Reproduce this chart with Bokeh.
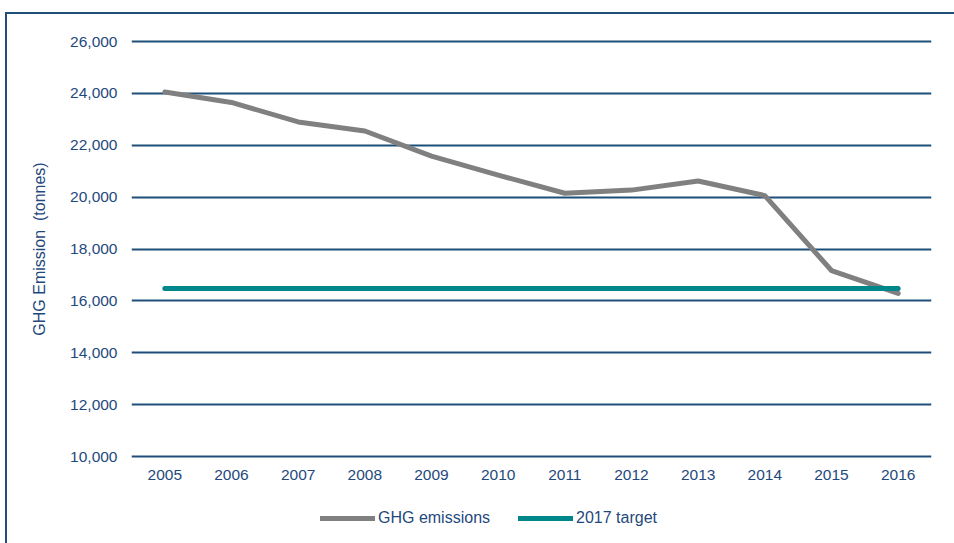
from bokeh.plotting import figure
from bokeh.models import FactorRange, Range1d, FixedTicker, NumeralTickFormatter, Legend, LegendItem, Div
from bokeh.layouts import column
from bokeh.embed import file_html
from bokeh.resources import INLINE

years = ["2005", "2006", "2007", "2008", "2009", "2010", "2011", "2012", "2013", "2014", "2015", "2016"]
ghg_emissions = [24050, 23650, 22900, 22550, 21580, 20850, 20150, 20270, 20620, 20060, 17170, 16290]
target_2017 = [16480] * len(years)
y_ticks = [10000, 12000, 14000, 16000, 18000, 20000, 22000, 24000, 26000]

NAVY = "#1F497D"
GRID = "#1F4E79"
GREY = "#808080"
TEAL = "#00878C"
FONT = "Liberation Sans"
FS = "15.5px"

x_range = FactorRange(factors=years, range_padding=0)
pad = 2 / 415 * 16000
p = figure(width=946, height=490, x_range=x_range,
           y_range=Range1d(10000 - pad, 26000 + pad), output_backend="svg", toolbar_location=None,
           min_border_left=131, min_border_right=15, min_border_top=39, min_border_bottom=32)

p.outline_line_color = None
p.xgrid.grid_line_color = None
p.ygrid.grid_line_color = GRID
p.ygrid.grid_line_width = 2
p.ygrid.ticker = FixedTicker(ticks=y_ticks)

p.yaxis.ticker = FixedTicker(ticks=y_ticks)
p.yaxis.formatter = NumeralTickFormatter(format="0,0")
p.yaxis.axis_label = "GHG Emission\u00a0 (tonnes)"
for ax in (p.xaxis[0], p.yaxis[0]):
    ax.axis_line_color = None
    ax.major_tick_line_color = None
    ax.minor_tick_line_color = None
    ax.major_tick_out = 0
    ax.minor_tick_out = 0
    ax.major_label_text_font = FONT
    ax.major_label_text_font_size = FS
    ax.major_label_text_color = NAVY
    ax.axis_label_text_font = FONT
    ax.axis_label_text_font_size = "16px"
    ax.axis_label_text_font_style = "normal"
    ax.axis_label_text_color = NAVY
p.yaxis.major_label_standoff = 14
p.yaxis.axis_label_standoff = 19
p.xaxis.major_label_standoff = 11

p.line(years, ghg_emissions, line_color=GREY, line_width=5, line_join="round", line_cap="round")
p.line(years, target_2017, line_color=TEAL, line_width=5, line_cap="round")

# legend strip below the chart (its own small figure; its lines lie outside its y range)
lg = figure(width=946, height=45, x_range=x_range, y_range=Range1d(0, 1),
            output_backend="svg", toolbar_location=None,
            x_axis_location=None, y_axis_location=None, min_border=0)
lg.outline_line_color = None
lg.grid.grid_line_color = None
l_ghg = lg.line(years, ghg_emissions, line_color=GREY, line_width=5, line_cap="round")
l_tgt = lg.line(years, target_2017, line_color=TEAL, line_width=5, line_cap="round")

legend = Legend(items=[LegendItem(label="GHG emissions", renderers=[l_ghg]),
                       LegendItem(label="2017 target", renderers=[l_tgt])],
                orientation="horizontal", location=(189, 7))
legend.glyph_width = 55
legend.glyph_height = 20
legend.label_height = 20
legend.label_standoff = 3
legend.spacing = 28
legend.padding = 0
legend.margin = 0
legend.border_line_color = None
legend.background_fill_alpha = 0
legend.label_text_font = FONT
legend.label_text_font_size = "16px"
legend.label_text_color = NAVY
lg.add_layout(legend)

border = Div(width=1, height=1, text=(
    '<div style="position:fixed; left:5px; top:12px; width:2000px; height:2000px; '
    'border-left:2px solid ' + GRID + '; border-top:2px solid ' + GRID + '; '
    'pointer-events:none;"></div>'))

page = column(p, lg, border, spacing=0)
open("out.html", "w").write(file_html(page, INLINE))
